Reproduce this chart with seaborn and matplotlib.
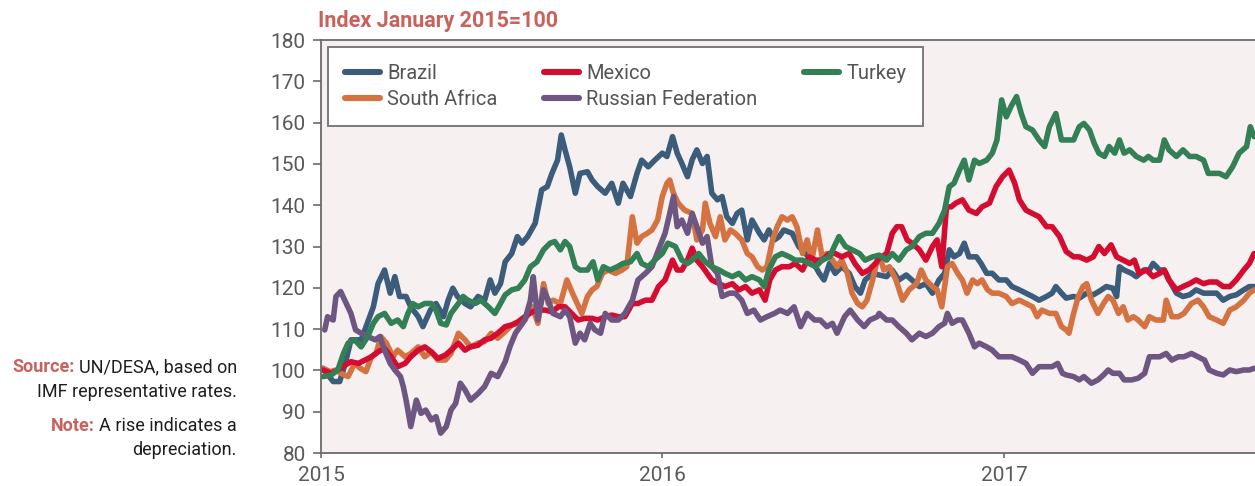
import matplotlib
matplotlib.use("Agg")
import matplotlib.pyplot as plt
import seaborn as sns
import pandas as pd

# ---- data: exchange rate index vs USD, Jan 2015 = 100 (days counted from 2015-01-01) ----
countries = ["Brazil", "South Africa", "Mexico", "Russian Federation", "Turkey"]
year_ticks = ["2015", "2016", "2017"]

brazil_days = [
    2, 13, 20, 26, 32, 43, 56, 61, 68, 74,
    79, 84, 91, 96, 104, 109, 117, 123, 131, 136,
    141, 146, 154, 160, 168, 175, 181, 186, 192, 197,
    204, 210, 215, 221, 229, 236, 242, 247, 253, 257,
    261, 266, 272, 277, 285, 290, 296, 304, 311, 318,
    323, 331, 338, 343, 350, 357, 365, 370, 376, 381,
    386, 392, 397, 402, 408, 413, 418, 424, 429, 434,
    440, 445, 450, 456, 461, 469, 474, 479, 485, 490,
    495, 504, 511, 518, 525, 533, 538, 544, 550, 557,
    565, 571, 577, 582, 590, 597, 605, 611, 618, 626,
    632, 640, 647, 654, 661, 667, 672, 677, 683, 688,
    693, 701, 706, 712, 718, 725, 733, 739, 747, 754,
    761, 768, 776, 782, 786, 792, 797, 805, 811, 819,
    826, 832, 840, 847, 851, 854, 859, 867, 872, 880,
    886, 890, 897, 902, 907, 915, 922, 929, 936, 944,
    950, 958, 965, 972, 979, 987, 993, 999]
brazil_vals = [
    100.5, 97.3, 97.3, 101.7, 107.4, 107.4, 115.4, 121.0, 124.3, 118.7,
    122.7, 117.9, 117.9, 115.4, 113.0, 110.6, 114.6, 116.2, 113.0, 117.0,
    119.9, 117.9, 116.2, 115.4, 117.9, 117.0, 121.9, 118.7, 121.0, 126.3,
    128.3, 132.4, 130.8, 132.4, 135.6, 143.7, 144.5, 147.7, 150.9, 157.0,
    153.4, 149.3, 142.9, 147.7, 148.1, 146.1, 144.5, 142.9, 145.3, 140.5,
    145.3, 142.1, 147.7, 150.9, 149.3, 150.9, 152.6, 151.8, 156.6, 152.6,
    150.1, 146.9, 151.0, 153.4, 150.1, 151.8, 142.9, 141.3, 142.1, 137.2,
    135.6, 138.0, 138.8, 131.6, 136.4, 133.2, 131.6, 134.0, 131.6, 132.4,
    134.0, 133.2, 130.0, 128.3, 126.7, 123.5, 121.9, 125.9, 123.5, 125.1,
    123.5, 120.3, 118.7, 121.9, 123.5, 123.1, 122.7, 124.3, 121.9, 123.1,
    121.9, 120.3, 121.0, 118.7, 121.9, 123.5, 129.2, 127.5, 128.3, 130.8,
    127.5, 127.5, 125.9, 123.5, 123.5, 121.9, 121.9, 120.3, 119.5, 118.7,
    117.9, 117.0, 117.9, 118.7, 120.3, 118.7, 117.5, 117.9, 117.5, 118.7,
    118.3, 119.1, 120.3, 119.9, 117.9, 125.1, 124.3, 123.5, 122.7, 124.3,
    124.3, 125.9, 124.3, 124.3, 121.9, 118.7, 117.9, 118.3, 119.5, 118.7,
    118.7, 118.7, 117.0, 117.9, 118.3, 119.5, 120.3, 120.3]

mexico_days = [
    2, 11, 18, 26, 32, 40, 47, 54, 61, 68,
    75, 82, 90, 96, 104, 111, 118, 125, 133, 139,
    147, 154, 160, 168, 175, 182, 189, 197, 204, 211,
    218, 226, 232, 240, 247, 254, 261, 268, 275, 282,
    290, 296, 304, 311, 318, 325, 333, 339, 347, 354,
    361, 368, 376, 381, 386, 392, 397, 402, 408, 413,
    418, 426, 432, 440, 447, 454, 461, 469, 475, 480,
    486, 493, 501, 507, 515, 522, 529, 536, 544, 550,
    557, 565, 571, 579, 586, 593, 597, 605, 611, 616,
    621, 627, 632, 640, 647, 654, 659, 664, 669, 674,
    679, 686, 693, 701, 707, 715, 722, 729, 736, 742,
    747, 754, 761, 768, 776, 782, 790, 797, 805, 811,
    819, 826, 832, 838, 845, 851, 858, 865, 870, 875,
    883, 890, 897, 902, 907, 915, 922, 929, 936, 944,
    950, 958, 965, 972, 979, 987, 993, 998]
mexico_vals = [
    100.1, 99.3, 100.1, 101.3, 102.1, 101.7, 102.5, 103.3, 104.5, 105.3,
    103.3, 100.9, 101.7, 103.3, 104.9, 105.7, 104.5, 102.9, 103.7, 104.9,
    106.6, 104.9, 105.7, 106.1, 107.4, 107.8, 109.0, 110.6, 111.0, 111.8,
    113.0, 114.2, 114.6, 114.6, 114.2, 115.4, 115.4, 113.8, 112.2, 112.6,
    112.6, 112.2, 113.0, 113.4, 113.0, 113.0, 116.2, 116.2, 117.0, 117.0,
    120.3, 121.9, 126.7, 124.3, 124.3, 126.7, 129.6, 126.7, 125.1, 123.5,
    121.9, 121.0, 120.3, 121.0, 119.5, 120.3, 118.7, 119.5, 117.0, 121.9,
    124.3, 125.1, 125.1, 125.9, 124.3, 127.5, 126.7, 126.7, 128.3, 128.3,
    127.5, 128.3, 125.9, 123.5, 124.3, 125.9, 127.1, 128.3, 133.2, 134.8,
    134.8, 131.6, 130.8, 129.2, 126.7, 130.0, 131.6, 125.1, 139.6, 139.6,
    140.5, 141.3, 138.8, 138.0, 139.6, 140.5, 144.5, 146.9, 148.5, 145.3,
    141.3, 138.8, 138.0, 137.2, 134.8, 134.8, 132.4, 128.8, 127.5, 127.5,
    126.7, 127.5, 130.0, 128.3, 130.4, 127.5, 126.7, 125.9, 126.7, 123.5,
    124.3, 122.7, 123.5, 124.3, 121.9, 119.5, 120.3, 121.0, 121.9, 121.0,
    121.4, 121.4, 120.3, 120.3, 121.9, 124.3, 125.9, 128.3]

turkey_days = [
    2, 11, 18, 24, 29, 36, 43, 50, 56, 61,
    68, 75, 82, 88, 93, 98, 104, 111, 118, 123,
    128, 134, 139, 147, 152, 157, 165, 171, 179, 186,
    192, 197, 204, 211, 218, 224, 231, 238, 245, 250,
    256, 261, 266, 272, 277, 285, 291, 296, 302, 309,
    317, 323, 331, 338, 343, 350, 357, 365, 371, 379,
    386, 392, 397, 404, 411, 418, 426, 432, 440, 447,
    454, 461, 469, 474, 479, 486, 493, 501, 507, 515,
    522, 529, 536, 544, 549, 554, 561, 568, 576, 582,
    590, 597, 605, 611, 618, 626, 632, 640, 647, 654,
    661, 667, 672, 677, 683, 688, 693, 699, 704, 712,
    718, 723, 728, 733, 738, 744, 749, 754, 761, 768,
    774, 779, 786, 792, 797, 805, 811, 816, 822, 827,
    832, 838, 843, 849, 854, 859, 865, 872, 880, 885,
    890, 897, 902, 907, 915, 922, 929, 936, 944, 949,
    954, 961, 968, 975, 982, 990, 994, 998]
turkey_vals = [
    98.5, 98.9, 100.1, 104.1, 106.6, 107.4, 105.7, 108.2, 111.4, 113.0,
    113.8, 111.4, 112.2, 110.6, 113.8, 116.2, 115.4, 116.2, 116.2, 114.6,
    111.4, 111.0, 113.8, 116.2, 117.9, 117.0, 116.2, 117.0, 115.4, 113.8,
    116.2, 118.3, 119.5, 119.9, 121.9, 125.1, 126.3, 129.2, 130.8, 131.2,
    129.2, 131.2, 130.0, 125.1, 124.3, 124.3, 126.3, 121.9, 125.1, 124.3,
    125.1, 125.9, 126.3, 128.3, 125.9, 125.1, 126.7, 128.3, 130.8, 130.0,
    126.7, 125.9, 126.7, 128.3, 126.3, 125.1, 124.3, 123.5, 122.7, 123.5,
    121.9, 122.7, 121.9, 120.3, 124.3, 127.5, 128.3, 127.5, 126.7, 126.7,
    125.9, 125.1, 126.7, 127.5, 130.0, 132.4, 130.0, 129.2, 128.3, 126.7,
    127.5, 127.9, 126.7, 128.3, 126.7, 129.2, 130.0, 132.4, 133.2, 133.2,
    135.6, 138.8, 144.5, 145.3, 148.5, 150.9, 146.1, 150.9, 150.1, 150.9,
    152.6, 155.8, 165.5, 161.4, 163.9, 166.3, 162.2, 159.0, 158.2, 155.8,
    154.2, 159.0, 162.2, 155.8, 155.8, 155.8, 159.0, 159.8, 158.2, 155.0,
    152.6, 151.8, 154.2, 152.6, 155.8, 152.6, 153.4, 151.8, 150.9, 151.8,
    150.9, 150.9, 155.8, 153.4, 151.8, 153.4, 151.8, 151.8, 150.9, 147.7,
    147.7, 147.7, 146.9, 149.3, 152.6, 154.2, 159.0, 156.6]

south_africa_days = [
    2, 10, 16, 21, 29, 36, 42, 48, 54, 59,
    64, 70, 77, 82, 90, 96, 104, 111, 118, 125,
    133, 139, 147, 154, 160, 168, 175, 182, 189, 197,
    204, 211, 218, 226, 232, 238, 243, 248, 256, 263,
    269, 274, 279, 285, 290, 295, 301, 307, 315, 322,
    327, 333, 338, 343, 349, 354, 360, 365, 370, 373,
    377, 382, 389, 397, 402, 408, 411, 416, 422, 427,
    432, 438, 443, 450, 456, 461, 467, 472, 477, 483,
    488, 493, 499, 504, 509, 515, 520, 525, 531, 536,
    541, 547, 552, 557, 563, 568, 574, 579, 584, 590,
    595, 598, 602, 608, 615, 622, 629, 637, 642, 647,
    654, 659, 664, 670, 675, 681, 686, 691, 697, 702,
    707, 713, 718, 725, 733, 739, 747, 754, 761, 766,
    771, 779, 786, 792, 797, 800, 805, 810, 815, 819,
    824, 831, 837, 842, 847, 853, 858, 863, 869, 874,
    881, 886, 893, 901, 904, 910, 917, 923, 931, 938,
    944, 950, 958, 965, 972, 979, 987, 993, 998]
south_africa_vals = [
    100.5, 99.7, 100.1, 99.3, 98.5, 101.7, 100.5, 99.7, 103.3, 104.1,
    108.2, 106.6, 103.3, 104.9, 103.3, 104.1, 105.7, 103.3, 104.5, 102.5,
    102.5, 104.1, 109.0, 107.4, 105.7, 106.6, 107.0, 109.0, 107.8, 109.4,
    111.0, 111.4, 112.2, 115.4, 111.4, 121.0, 116.2, 117.0, 116.2, 121.9,
    118.7, 116.2, 113.8, 117.9, 119.5, 120.3, 123.5, 124.3, 123.5, 124.3,
    125.1, 137.2, 130.8, 132.4, 133.2, 134.0, 136.4, 142.1, 145.3, 146.1,
    142.9, 140.5, 138.8, 138.0, 131.6, 134.0, 140.5, 135.6, 132.4, 137.2,
    131.6, 134.0, 133.2, 131.6, 128.3, 127.5, 125.1, 124.3, 125.1, 131.6,
    134.8, 137.2, 136.4, 137.2, 134.8, 128.3, 131.6, 126.7, 134.0, 127.5,
    128.3, 126.7, 125.1, 126.7, 123.5, 118.7, 116.2, 115.4, 117.0, 121.9,
    126.7, 127.5, 124.3, 125.1, 121.9, 117.0, 119.5, 121.0, 124.3, 121.9,
    120.3, 119.5, 115.4, 125.1, 125.9, 123.5, 121.9, 118.7, 121.9, 121.0,
    121.9, 119.5, 118.7, 118.7, 117.9, 116.2, 117.0, 116.2, 115.4, 113.0,
    114.6, 113.8, 113.8, 110.6, 109.8, 109.0, 113.8, 117.9, 120.3, 121.0,
    117.0, 113.8, 116.2, 117.9, 117.0, 113.8, 115.4, 112.2, 113.0, 112.2,
    110.6, 113.0, 112.2, 112.2, 117.0, 113.0, 113.0, 113.8, 116.2, 117.0,
    115.4, 113.0, 112.2, 111.4, 114.6, 115.4, 117.0, 118.7, 119.5]

russia_days = [
    4, 7, 13, 16, 21, 27, 32, 37, 43, 50,
    58, 63, 68, 74, 79, 85, 88, 91, 96, 102,
    107, 112, 118, 123, 128, 134, 139, 144, 149, 154,
    160, 168, 175, 182, 189, 197, 202, 208, 213, 218,
    224, 227, 232, 238, 243, 248, 256, 261, 266, 272,
    277, 282, 288, 293, 299, 304, 311, 318, 325, 333,
    339, 347, 354, 361, 368, 373, 377, 381, 386, 392,
    397, 402, 408, 413, 418, 424, 429, 437, 443, 450,
    456, 463, 470, 477, 485, 491, 499, 506, 513, 520,
    528, 534, 541, 547, 552, 560, 566, 574, 581, 587,
    595, 597, 605, 611, 618, 626, 632, 640, 647, 654,
    661, 667, 670, 675, 681, 686, 693, 699, 704, 712,
    718, 725, 733, 739, 747, 754, 761, 768, 776, 782,
    788, 793, 797, 805, 811, 816, 824, 831, 837, 842,
    847, 854, 859, 867, 874, 881, 886, 891, 897, 904,
    910, 917, 923, 931, 938, 945, 950, 958, 965, 972,
    979, 987, 993, 998]
russia_vals = [
    109.8, 113.0, 112.2, 117.9, 119.1, 116.2, 113.8, 109.8, 109.0, 108.2,
    107.4, 108.2, 104.9, 101.7, 100.1, 98.5, 96.1, 92.8, 86.4, 92.8,
    89.6, 90.4, 88.0, 88.8, 84.8, 86.4, 90.4, 92.0, 96.9, 95.3,
    92.8, 94.4, 96.1, 99.3, 98.5, 102.1, 105.7, 109.0, 110.6, 112.2,
    117.0, 122.7, 112.2, 119.5, 117.0, 113.8, 113.0, 114.6, 113.0, 106.6,
    109.0, 107.4, 111.4, 109.8, 109.0, 113.8, 112.2, 112.2, 113.8, 117.0,
    121.9, 123.5, 125.1, 129.2, 133.2, 138.0, 142.1, 134.8, 136.4, 133.2,
    138.0, 134.8, 130.8, 132.4, 125.1, 123.5, 117.9, 118.7, 118.7, 117.0,
    113.8, 114.6, 112.2, 113.0, 113.8, 114.6, 113.8, 115.4, 110.6, 113.8,
    112.2, 112.2, 110.6, 111.4, 109.0, 113.0, 114.6, 112.2, 110.6, 112.2,
    113.0, 113.8, 112.2, 112.2, 110.6, 109.0, 107.4, 109.0, 108.2, 109.0,
    110.6, 111.4, 113.8, 111.4, 112.2, 112.2, 109.0, 105.7, 106.6, 105.7,
    104.9, 103.3, 103.3, 103.3, 102.5, 101.7, 99.3, 100.9, 100.9, 100.9,
    101.7, 99.3, 98.9, 98.5, 97.7, 98.5, 96.9, 97.7, 98.9, 100.1,
    99.3, 99.3, 97.7, 97.7, 98.1, 99.3, 103.3, 103.3, 103.3, 104.1,
    102.5, 103.3, 103.3, 104.1, 103.3, 102.5, 100.1, 99.3, 98.9, 100.1,
    99.7, 100.1, 100.1, 100.5]

colors = ["#3b5c7a", "#d57242", "#d40c30", "#6e5682", "#338056"]

# ---- assemble long-form table ----
start = pd.Timestamp("2015-01-01")
series = {
    "Brazil": (brazil_days, brazil_vals),
    "South Africa": (south_africa_days, south_africa_vals),
    "Mexico": (mexico_days, mexico_vals),
    "Russian Federation": (russia_days, russia_vals),
    "Turkey": (turkey_days, turkey_vals),
}
frames = []
for name, (d, v) in series.items():
    frames.append(pd.DataFrame({
        "date": start + pd.to_timedelta(d, unit="D"),
        "value": v,
        "country": name,
    }))
df = pd.concat(frames, ignore_index=True)

# ---- styling ----
sns.set_theme(style="white")
plt.rcParams["font.family"] = ["Roboto", "DejaVu Sans"]

W, H = 1255, 486
fig, ax = plt.subplots(figsize=(W / 100, H / 100), dpi=100)
fig.subplots_adjust(left=321 / W, right=1.0, bottom=1 - 453 / H, top=1 - 40 / H)

sns.lineplot(data=df, x="date", y="value", hue="country", hue_order=countries,
             palette=colors, linewidth=4.0, estimator=None, ax=ax)
for ln in ax.get_lines():
    ln.set_solid_joinstyle("round")
    ln.set_solid_capstyle("round")

ax.set_facecolor("#f6f0f0")
ax.set_xlim(start, start + pd.Timedelta(days=999))
ax.set_ylim(80, 180)
ax.set_yticks(range(80, 181, 10))
ax.set_xticks([pd.Timestamp(f"{y}-01-01") for y in year_ticks])
ax.set_xticklabels(year_ticks)
ax.set_xlabel("")
ax.set_ylabel("")

spine_col = "#6b6b6b"
for side in ["left", "bottom", "top"]:
    ax.spines[side].set_color(spine_col)
    ax.spines[side].set_linewidth(1.3)
ax.spines["right"].set_visible(False)

ax.tick_params(axis="y", which="major", left=True, length=6, width=1.2, color=spine_col,
               labelsize=15, labelcolor="#595959", pad=5)
ax.tick_params(axis="x", which="major", bottom=True, length=3.5, width=1.2, color=spine_col,
               labelsize=15, labelcolor="#595959", pad=6)

# legend
handles, labels = ax.get_legend_handles_labels()
ax.get_legend().remove()
for h in handles:
    h.set_linewidth(4.4)
    h.set_solid_capstyle("round")
leg = ax.legend(handles, labels, ncol=3, loc="upper left",
                bbox_to_anchor=(7 / 934, 0.983),
                frameon=True, fancybox=False, framealpha=1.0, edgecolor="#7a7a7a",
                fontsize=14.5, handlelength=1.75, handletextpad=0.35,
                columnspacing=2.3, borderpad=0.85, labelspacing=0.32,
                borderaxespad=0.0)
leg.get_frame().set_linewidth(1.4)
for t in leg.get_texts():
    t.set_color("#555555")

# headings and notes
accent = "#c8625c"
fig.text(318 / W, 1 - 27 / H, "Index January 2015=100", ha="left", va="baseline",
         fontsize=15.5, fontweight="bold", color=accent)

fig.canvas.draw()
renderer = fig.canvas.get_renderer()
xr = 237 / W
note_lines = [
    (372, "Source:", "UN/DESA, based on"),
    (397, None, "IMF representative rates."),
    (431, "Note:", "A rise indicates a"),
    (455, None, "depreciation."),
]
for base, head, body in note_lines:
    t = fig.text(xr, 1 - base / H, body, ha="right", va="baseline",
                 fontsize=13, color="#1e1e1e")
    if head:
        bb = t.get_window_extent(renderer)
        fig.text((bb.x0 - 4) / W, 1 - base / H, head, ha="right", va="baseline",
                 fontsize=13, fontweight="bold", color=accent)

fig.savefig("out.png", dpi=100)
